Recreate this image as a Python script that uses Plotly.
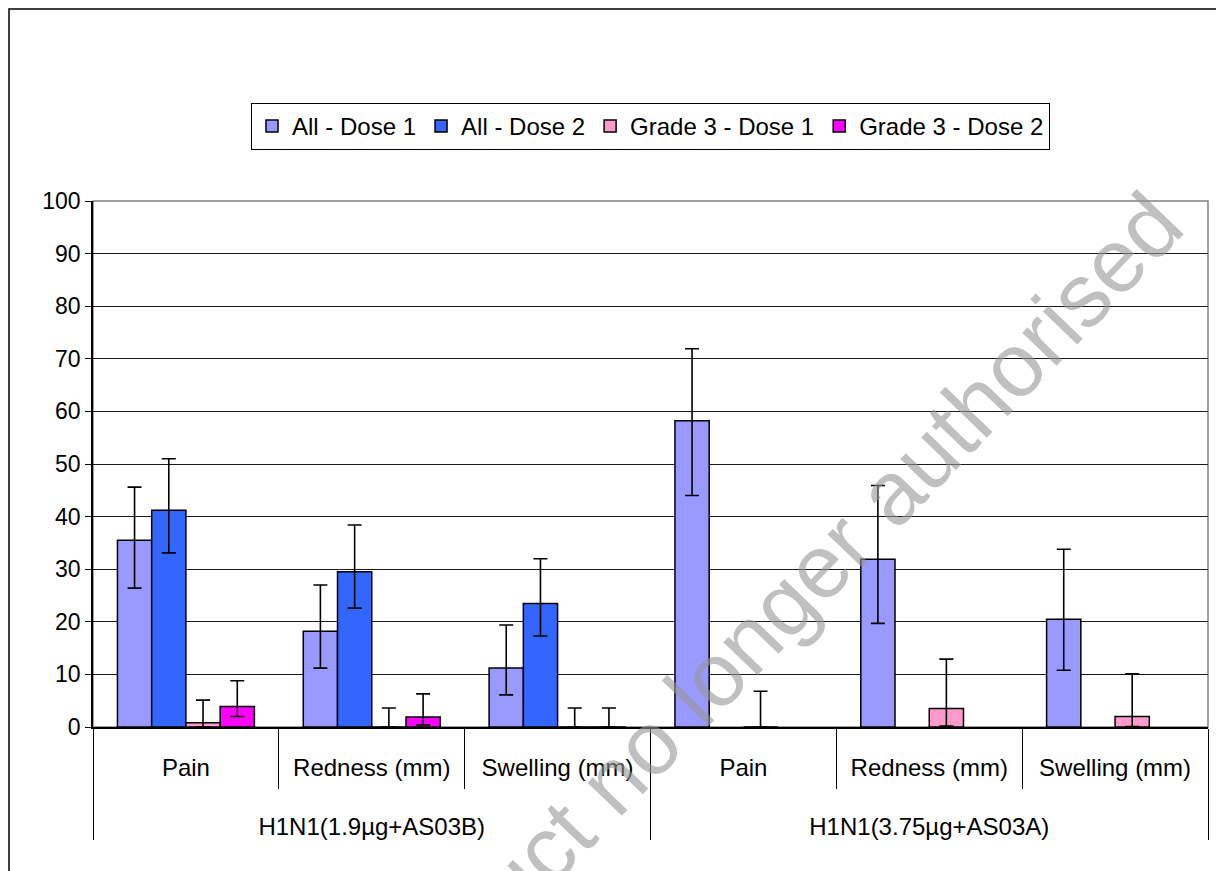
import plotly.graph_objects as go

groups = ["H1N1(1.9µg+AS03B)"] * 3 + ["H1N1(3.75µg+AS03A)"] * 3
categories = ["Pain", "Redness (mm)", "Swelling (mm)", "Pain", "Redness (mm)", "Swelling (mm)"]

series_names = ["All - Dose 1", "All - Dose 2", "Grade 3 - Dose 1", "Grade 3 - Dose 2"]
colors = ["#9999FF", "#3366FF", "#FF99CC", "#FF00FF"]

all_d1 = [35.5, 18.2, 11.2, 58.2, 31.9, 20.5]
all_d1_hi = [45.6, 27.0, 19.4, 71.9, 45.9, 33.8]
all_d1_lo = [26.4, 11.2, 6.1, 44.0, 19.7, 10.8]

all_d2 = [41.2, 29.5, 23.5, None, None, None]
all_d2_hi = [51.0, 38.4, 32.0, None, None, None]
all_d2_lo = [33.1, 22.6, 17.3, None, None, None]

g3_d1 = [0.8, 0.0, 0.0, 0.0, 3.5, 2.0]
g3_d1_hi = [5.1, 3.6, 3.6, 6.8, 12.9, 10.1]
g3_d1_lo = [0.0, 0.0, 0.0, 0.0, 0.2, 0.1]

g3_d2 = [3.9, 1.9, 0.0, None, None, None]
g3_d2_hi = [8.8, 6.3, 3.6, None, None, None]
g3_d2_lo = [2.0, 0.4, 0.0, None, None, None]

values = [all_d1, all_d2, g3_d1, g3_d2]
highs = [all_d1_hi, all_d2_hi, g3_d1_hi, g3_d2_hi]
lows = [all_d1_lo, all_d2_lo, g3_d1_lo, g3_d2_lo]

FONT = "Liberation Sans, Arial, sans-serif"

# tick text sized via spans; small base font lets blank lines act as fine spacers
big = "<span style='font-size:24px'>{}</span>"
inner = [big.format(c) for c in categories]
outer = [" <br> <br> <br> <br>" + big.format(g) for g in groups]

fig = go.Figure()
for name, col, v, hi, lo in zip(series_names, colors, values, highs, lows):
    plus = [None if a is None else round(h - a, 2) for a, h in zip(v, hi)]
    minus = [None if a is None else round(a - l, 2) for a, l in zip(v, lo)]
    fig.add_trace(go.Bar(
        name=name,
        x=[outer, inner],
        y=v,
        marker=dict(color=col, line=dict(color="black", width=1.5)),
        error_y=dict(type="data", symmetric=False, array=plus, arrayminus=minus,
                     color="black", thickness=1.6, width=7),
    ))

# page offset: the figure div sits 8px from the page's top-left corner
OFF = 8
W, H = 1224, 871
PL, PR, PT, PB = 93, 1208, 201, 727   # plot area in page pixels
pw, ph = PR - PL, PB - PT

def px(x):
    return (x - PL) / pw

def py(y):
    return (PB - y) / ph

fig.update_layout(
    width=W, height=H,
    margin=dict(l=PL - OFF, r=W - (PR - OFF), t=PT - OFF, b=H - (PB - OFF)),
    paper_bgcolor="white", plot_bgcolor="white",
    barmode="group", bargap=0.263, bargroupgap=0,
    font=dict(family=FONT, size=22, color="black"),
    showlegend=True,
    legend=dict(orientation="h", x=px(650.5), xanchor="center", y=py(126.5), yanchor="middle",
                bordercolor="black", borderwidth=1, bgcolor="white",
                font=dict(family=FONT, size=24), itemwidth=30, tracegroupgap=0),
    xaxis=dict(type="multicategory", showline=True, linecolor="black", linewidth=1.5,
               ticks="outside", ticklen=60, tickcolor="black", tickwidth=1,
               showdividers=True, dividercolor="black", dividerwidth=1,
               ticklabelstandoff=33,
               tickfont=dict(family=FONT, size=12)),
    yaxis=dict(range=[0, 100], dtick=10, showgrid=True, gridcolor="#1a1a1a", gridwidth=1,
               showline=True, linecolor="black", linewidth=1.5,
               ticks="outside", ticklen=6, tickcolor="black",
               tickfont=dict(family=FONT, size=23), zeroline=False),
)

# plot area border and outer chart border
fig.add_shape(type="rect", xref="paper", yref="paper", x0=0, x1=1, y0=0, y1=1,
              line=dict(color="#808080", width=1.5), layer="below")
fig.add_shape(type="rect", xref="paper", yref="paper", x0=px(9), x1=px(1240), y0=py(900), y1=py(9),
              line=dict(color="black", width=1.5), layer="below")

# watermark
fig.add_annotation(text="Product no longer authorised", xref="paper", yref="paper",
                   x=px(764), y=py(624), xanchor="center", yanchor="middle",
                   showarrow=False, textangle=-46,
                   font=dict(family=FONT, size=90, color="rgba(150,150,150,0.6)"))

fig.write_html("out.html")
